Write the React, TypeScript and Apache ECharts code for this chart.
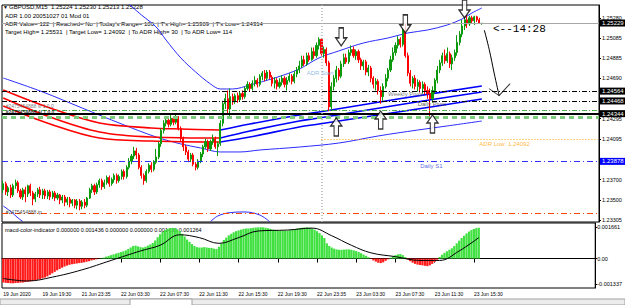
import React, { useEffect, useRef } from "react";
import * as echarts from "echarts";

// ---------- data ----------
const SLOTS = 242;
const LABEL_STEP = 16;
const timeLabels = [
  "19 Jun 2020", "19 Jun 19:30", "21 Jun 23:35", "22 Jun 03:30", "22 Jun 07:30",
  "22 Jun 11:30", "22 Jun 15:30", "22 Jun 19:30", "22 Jun 23:35", "23 Jun 03:30",
  "23 Jun 07:30", "23 Jun 11:30", "23 Jun 15:30",
];
const priceTicks = [1.2528, 1.25085, 1.24885, 1.2469, 1.24295, 1.24095, 1.237, 1.235, 1.23305];
const macdTicks = [0.001661, 0, -0.001337];

// [open, close, low, high]
const candles: number[][] = [
  [1.2360,1.2366,1.2357,1.2369],[1.2366,1.2358,1.2355,1.2368],[1.2358,1.2362,1.2354,1.2364],[1.2362,1.2355,1.2352,1.2365],
  [1.2355,1.2364,1.2353,1.2366],[1.2364,1.2367,1.2361,1.2370],[1.2367,1.2359,1.2357,1.2369],[1.2359,1.2353,1.2351,1.2361],
  [1.2353,1.2360,1.2350,1.2362],[1.2360,1.2356,1.2348,1.2363],[1.2356,1.2364,1.2353,1.2365],[1.2364,1.2357,1.2354,1.2366],
  [1.2357,1.2351,1.2345,1.2359],[1.2351,1.2356,1.2348,1.2358],[1.2356,1.2360,1.2353,1.2362],[1.2360,1.2355,1.2352,1.2363],
  [1.2355,1.2359,1.2351,1.2361],[1.2359,1.2354,1.2351,1.2361],[1.2354,1.2358,1.2351,1.2360],[1.2358,1.2353,1.2350,1.2360],
  [1.2353,1.2357,1.2351,1.2359],[1.2357,1.2352,1.2349,1.2359],[1.2352,1.2355,1.2350,1.2357],[1.2355,1.2350,1.2346,1.2356],
  [1.2350,1.2353,1.2347,1.2355],[1.2353,1.2348,1.2344,1.2355],[1.2348,1.2351,1.2345,1.2353],[1.2351,1.2347,1.2343,1.2353],
  [1.2347,1.2350,1.2344,1.2351],[1.2350,1.2345,1.2342,1.2351],[1.2345,1.2349,1.2341,1.2351],[1.2349,1.2344,1.2340,1.2351],
  [1.2344,1.2348,1.2341,1.2350],[1.2348,1.2345,1.2342,1.2351],[1.2345,1.2352,1.2343,1.2353],[1.2352,1.2360,1.2351,1.2362],
  [1.2360,1.2364,1.2357,1.2366],[1.2364,1.2358,1.2355,1.2366],[1.2358,1.2365,1.2356,1.2367],[1.2365,1.2369,1.2362,1.2371],
  [1.2369,1.2363,1.2360,1.2371],[1.2363,1.2367,1.2361,1.2370],[1.2367,1.2372,1.2365,1.2374],[1.2372,1.2366,1.2363,1.2374],
  [1.2366,1.2370,1.2364,1.2372],[1.2370,1.2374,1.2367,1.2376],[1.2374,1.2369,1.2366,1.2376],[1.2369,1.2373,1.2367,1.2375],
  [1.2373,1.2378,1.2370,1.2380],[1.2378,1.2373,1.2370,1.2380],[1.2373,1.2382,1.2371,1.2384],[1.2382,1.2388,1.2380,1.2391],
  [1.2388,1.2393,1.2385,1.2395],[1.2393,1.2398,1.2390,1.2402],[1.2398,1.2394,1.2390,1.2401],[1.2394,1.2382,1.2380,1.2396],
  [1.2382,1.2374,1.2371,1.2384],[1.2374,1.2369,1.2365,1.2376],[1.2369,1.2378,1.2367,1.2380],[1.2378,1.2384,1.2376,1.2386],
  [1.2384,1.2380,1.2377,1.2387],[1.2380,1.2387,1.2378,1.2389],[1.2387,1.2392,1.2385,1.2400],[1.2392,1.2405,1.2390,1.2407],
  [1.2405,1.2418,1.2402,1.2420],[1.2418,1.2425,1.2415,1.2428],[1.2425,1.2428,1.2422,1.2430],[1.2428,1.2424,1.2421,1.2431],
  [1.2424,1.2430,1.2422,1.2433],[1.2430,1.2426,1.2423,1.2432],[1.2426,1.2430,1.2424,1.2434],[1.2430,1.2420,1.2418,1.2432],
  [1.2420,1.2410,1.2407,1.2422],[1.2410,1.2402,1.2398,1.2412],[1.2402,1.2397,1.2394,1.2404],[1.2397,1.2390,1.2387,1.2399],
  [1.2390,1.2394,1.2387,1.2396],[1.2394,1.2385,1.2383,1.2396],[1.2385,1.2382,1.2379,1.2387],[1.2382,1.2388,1.2380,1.2390],
  [1.2388,1.2395,1.2386,1.2397],[1.2395,1.2402,1.2392,1.2404],[1.2402,1.2407,1.2400,1.2410],[1.2407,1.2400,1.2397,1.2409],
  [1.2400,1.2407,1.2398,1.2409],[1.2407,1.2410,1.2404,1.2414],[1.2410,1.2402,1.2400,1.2412],[1.2402,1.2405,1.2393,1.2407],
  [1.2405,1.2425,1.2403,1.2428],[1.2425,1.2444,1.2422,1.2447],[1.2444,1.2449,1.2439,1.2454],[1.2449,1.2439,1.2434,1.2457],
  [1.2439,1.2451,1.2432,1.2459],[1.2451,1.2446,1.2443,1.2454],[1.2446,1.2452,1.2444,1.2454],[1.2452,1.2448,1.2445,1.2455],
  [1.2448,1.2454,1.2446,1.2456],[1.2454,1.2451,1.2448,1.2457],[1.2451,1.2459,1.2449,1.2461],[1.2459,1.2463,1.2457,1.2466],
  [1.2463,1.2459,1.2456,1.2465],[1.2459,1.2464,1.2457,1.2467],[1.2464,1.2467,1.2461,1.2471],[1.2467,1.2463,1.2460,1.2469],
  [1.2463,1.2471,1.2461,1.2473],[1.2471,1.2474,1.2467,1.2476],[1.2474,1.2469,1.2466,1.2477],[1.2469,1.2475,1.2467,1.2477],
  [1.2475,1.2470,1.2468,1.2477],[1.2470,1.2464,1.2461,1.2472],[1.2464,1.2467,1.2459,1.2470],[1.2467,1.2461,1.2458,1.2469],
  [1.2461,1.2465,1.2459,1.2469],[1.2465,1.2469,1.2462,1.2472],[1.2469,1.2463,1.2460,1.2471],[1.2463,1.2467,1.2457,1.2470],
  [1.2467,1.2471,1.2465,1.2474],[1.2471,1.2466,1.2463,1.2473],[1.2466,1.2473,1.2464,1.2476],[1.2473,1.2477,1.2470,1.2480],
  [1.2477,1.2481,1.2474,1.2486],[1.2481,1.2487,1.2479,1.2491],[1.2487,1.2483,1.2481,1.2491],[1.2483,1.2491,1.2481,1.2494],
  [1.2491,1.2487,1.2485,1.2494],[1.2487,1.2495,1.2486,1.2499],[1.2495,1.2491,1.2488,1.2499],[1.2491,1.2501,1.2489,1.2504],
  [1.2501,1.2507,1.2497,1.2509],[1.2507,1.2493,1.2491,1.2508],[1.2493,1.2497,1.2489,1.2500],[1.2497,1.2484,1.2481,1.2499],
  [1.2484,1.2441,1.2437,1.2486],[1.2441,1.2461,1.2437,1.2465],[1.2461,1.2469,1.2457,1.2472],[1.2469,1.2477,1.2465,1.2481],
  [1.2477,1.2471,1.2467,1.2479],[1.2471,1.2483,1.2469,1.2486],[1.2483,1.2489,1.2480,1.2493],[1.2489,1.2485,1.2483,1.2493],
  [1.2485,1.2494,1.2483,1.2497],[1.2494,1.2497,1.2491,1.2501],[1.2497,1.2491,1.2489,1.2500],[1.2491,1.2495,1.2487,1.2497],
  [1.2495,1.2487,1.2484,1.2497],[1.2487,1.2481,1.2477,1.2489],[1.2481,1.2485,1.2477,1.2487],[1.2485,1.2475,1.2472,1.2487],
  [1.2475,1.2479,1.2471,1.2482],[1.2479,1.2469,1.2465,1.2481],[1.2469,1.2463,1.2459,1.2471],[1.2463,1.2466,1.2457,1.2469],
  [1.2466,1.2457,1.2453,1.2468],[1.2457,1.2451,1.2444,1.2461],[1.2451,1.2461,1.2447,1.2464],[1.2461,1.2469,1.2459,1.2473],
  [1.2469,1.2477,1.2466,1.2479],[1.2477,1.2487,1.2475,1.2491],[1.2487,1.2494,1.2485,1.2499],[1.2494,1.2501,1.2491,1.2504],
  [1.2501,1.2507,1.2498,1.2510],[1.2507,1.2502,1.2499,1.2509],[1.2502,1.2516,1.2500,1.2518],[1.2516,1.2491,1.2489,1.2523],
  [1.2491,1.2474,1.2471,1.2494],[1.2474,1.2464,1.2461,1.2477],[1.2464,1.2469,1.2459,1.2471],[1.2469,1.2461,1.2458,1.2472],
  [1.2461,1.2465,1.2456,1.2468],[1.2465,1.2459,1.2455,1.2467],[1.2459,1.2463,1.2454,1.2466],[1.2463,1.2457,1.2453,1.2465],
  [1.2457,1.2454,1.2449,1.2461],[1.2454,1.2449,1.24314,1.2459],[1.2449,1.2457,1.2445,1.2461],[1.2457,1.2467,1.2454,1.2469],
  [1.2467,1.2477,1.2464,1.2481],[1.2477,1.2484,1.2474,1.2487],[1.2484,1.2491,1.2481,1.2494],[1.2491,1.2486,1.2483,1.2497],
  [1.2486,1.2493,1.2484,1.2499],[1.2493,1.2483,1.2479,1.2495],[1.2483,1.2489,1.2477,1.2492],[1.2489,1.2494,1.2486,1.2497],
  [1.2494,1.2504,1.2491,1.2511],[1.2504,1.2512,1.2501,1.2515],[1.2512,1.2520,1.2509,1.2526],[1.2520,1.2526,1.2516,1.2530],
  [1.2526,1.2522,1.2518,1.25309],[1.2522,1.2528,1.2520,1.2530],[1.2528,1.2525,1.2523,1.2530],[1.2525,1.2529,1.2521,1.2530],
  [1.2529,1.2526,1.2524,1.2530],[1.2526,1.25224,1.2522,1.2528],[1.25224,1.25228,1.25213,1.25230],
];

// bands / moving averages: [barIndex, price]
const upperBand = [[50,1.25434],[56,1.25308],[62,1.2519],[66,1.25063],[72,1.24888],[78,1.24751],[84,1.24634],[88,1.24585],[93,1.24585],[100,1.24624],[110,1.24692],[120,1.2478],[128,1.24888],[136,1.24956],[146,1.25034],[156,1.25083],[164,1.25132],[172,1.25161],[180,1.2521],[186,1.25268],[190,1.25327],[194,1.25376]];
const lowerBand = [[0,1.24692],[16,1.24556],[32,1.24399],[48,1.24243],[62,1.24116],[72,1.24048],[80,1.24009],[88,1.2397],[96,1.2397],[104,1.23989],[120,1.24018],[136,1.24057],[152,1.24126],[168,1.24184],[180,1.24224],[194,1.24272]];
const outerBandLeft = [[0,1.23442],[3,1.2339],[6,1.23325],[8,1.2329]];
const outerBandMid = [[84,1.2329],[87,1.23345],[92,1.23378],[98,1.23384],[104,1.23354],[108,1.2329]];
const maRedA = [[0,1.24575],[19,1.24399],[39,1.24253],[60,1.24204],[72,1.24194],[88,1.24184]];
const maRedB = [[0,1.24497],[19,1.24311],[39,1.24165],[60,1.24116],[88,1.24106]];
const maRedC = [[0,1.24419],[19,1.24243],[39,1.24106],[60,1.24077],[88,1.24067]];
const maBlueA = [[88,1.24184],[100,1.24243],[120,1.24331],[128,1.2436],[160,1.24487],[194,1.24614]];
const maBlueB = [[88,1.24106],[100,1.24175],[120,1.24272],[128,1.24302],[160,1.24429],[194,1.24556]];
const maBlueC = [[88,1.24067],[100,1.24116],[120,1.24214],[128,1.24243],[160,1.2436],[194,1.24487]];

const currentPrice = 1.25229;
const weeklyPivot = 1.24564;
const dailyPivot = 1.24468;
const greenLevel = 1.24377;
const slLevel = 1.24344;
const greenLevel2 = 1.24309;
const adrLow = 1.24092;
const dailyS1 = 1.23878;
const tpLevel = 1.23369;
const adrStartBar = 129;

const downArrows = [[137,1.25093],[163,1.2522],[187,1.25366]];
const upArrows = [[135,1.24214],[153,1.24282],[174,1.24243]];
const handArrow = [[195,1.2516],[197,1.2497],[199,1.2474],[201,1.2452]];

const macdHist = [
  -0.00126,-0.00128,-0.00129,-0.0013,-0.0013,-0.00129,-0.00128,-0.00127,-0.00126,-0.00124,-0.00122,-0.0012,-0.00118,-0.00115,-0.00112,-0.00108,-0.00104,-0.001,
  -0.00094,-0.00086,-0.00078,-0.0007,-0.00062,-0.00055,-0.00048,-0.00042,-0.00037,-0.00033,-0.0003,-0.00028,-0.00026,-0.00024,-0.00022,-0.0002,-0.00017,-0.00014,
  -0.0001,-0.00007,-0.00004,-0.00001,0.00002,0.00005,0.0001,0.00014,0.00018,0.00022,0.00026,0.0003,
  0.00034,0.00038,0.00043,0.0005,0.00058,0.00066,0.00068,0.00064,0.0006,0.00058,0.00062,0.00068,0.00074,0.00082,0.00095,0.00112,0.00128,0.0014,
  0.0015,0.00156,0.0016,0.00161,0.0016,0.00154,0.00144,0.0013,0.00116,0.001,0.00088,0.00076,0.00066,0.0006,
  0.00058,0.00058,0.0006,0.00058,0.00056,0.00056,0.00052,0.0005,0.00062,0.0008,0.00098,0.0011,0.00122,0.0013,0.00138,0.00144,
  0.00148,0.00152,0.00156,0.00158,0.00158,0.0016,0.00162,0.00163,0.00164,0.00165,0.00164,0.00162,0.0016,0.00156,0.00152,0.0015,0.00148,0.00147,0.00146,0.00146,0.00147,0.00149,0.00152,0.00155,0.00158,0.0016,0.00162,0.00163,0.00164,0.00162,0.00158,0.00152,0.00144,0.00134,0.00122,0.00108,
  0.0008,0.00066,0.00058,0.00052,0.00048,0.00046,0.00046,0.00047,0.00048,0.00048,0.00046,0.00043,0.00039,0.00034,0.00028,0.00021,0.00014,0.00007,
  -0.00002,-0.0001,-0.00016,-0.00022,-0.00024,-0.0002,-0.00012,-0.00004,0.00004,0.00012,0.00018,
  0.00022,0.00024,0.00018,0.00008,-0.00004,-0.00014,-0.00022,-0.00028,-0.00032,-0.00034,-0.00036,-0.00038,-0.0004,-0.00036,-0.00028,-0.00018,-0.00006,
  0.00008,0.0002,0.0003,0.00038,0.00046,0.00054,0.00066,0.0008,0.00094,0.00108,0.0012,0.00132,0.00142,0.0015,0.00156,0.0016,0.00162,
];
const macdSignal = [[0,-0.00105],[10,-0.00118],[20,-0.00098],[32,-0.0006],[44,-0.0001],[56,0.0004],[64,0.0007],[72,0.00125],[80,0.0011],[88,0.0008],[96,0.0011],[104,0.00145],[116,0.0015],[126,0.0016],[134,0.0012],[142,0.0007],[150,0.0003],[160,0.0001],[170,-0.0001],[178,-0.0001],[186,0.0004],[194,0.0011]];

// ---------- styling ----------
const FONT = '"Liberation Sans", Arial, sans-serif';
const BULL = "#0c9a0c";
const BEAR = "#ff0000";
const DASHDOT = [5, 2, 1, 2];

const categories = Array.from({ length: SLOTS }, (_, i) => "b" + i);
const isTick = (idx: number) => idx % LABEL_STEP === 0 && idx / LABEL_STEP < timeLabels.length;

const boxLabel = (bg: string) => ({
  show: true,
  position: "end",
  distance: 1,
  formatter: (p: any) => Number(p.value).toFixed(5),
  backgroundColor: bg,
  color: "#fff",
  fontSize: 6,
  fontFamily: FONT,
  padding: [1, 2, 0, 2],
});

const lineSeries = (name: string, data: number[][], color: string, width: number) => ({
  name,
  type: "line",
  xAxisIndex: 0,
  yAxisIndex: 0,
  data,
  showSymbol: false,
  symbol: "none",
  smooth: 0.35,
  lineStyle: { color, width },
  z: 2,
  silent: true,
});

const note = (value: number[], text: string, color: string, extra: any = {}) => ({
  value,
  label: { show: true, formatter: text, color, ...extra },
});

export default function App() {
  const ref = useRef<HTMLDivElement>(null);

  useEffect(() => {
    if (!ref.current) return;
    const chart = echarts.init(ref.current, undefined, { renderer: "svg" });

    const option: any = {
      animation: false,
      backgroundColor: "#ffffff",
      grid: [
        { left: 2, right: 26, top: 5, height: 217, show: true, borderColor: "#000", borderWidth: 1 },
        { left: 2, right: 26, top: 223, height: 65, show: true, borderColor: "#000", borderWidth: 1 },
      ],
      xAxis: [
        {
          type: "category", gridIndex: 0, data: categories, boundaryGap: true,
          axisLine: { show: false }, axisTick: { show: false }, axisLabel: { show: false }, splitLine: { show: false },
        },
        {
          type: "category", gridIndex: 1, data: categories, boundaryGap: true,
          axisLine: { show: true, lineStyle: { color: "#000", width: 1 } },
          axisTick: { show: true, alignWithLabel: true, interval: isTick, length: 4, lineStyle: { color: "#000" } },
          axisLabel: {
            interval: isTick, align: "left", margin: 3, fontSize: 5, fontFamily: FONT, color: "#000",
            formatter: (_v: string, idx: number) => timeLabels[idx / LABEL_STEP] ?? "",
          },
          splitLine: { show: false },
        },
      ],
      yAxis: [
        {
          type: "value", gridIndex: 0, position: "right", min: 1.23286, max: 1.25405, scale: true,
          splitLine: { show: false },
          axisLine: { show: true, lineStyle: { color: "#000" } },
          axisTick: { show: true, customValues: priceTicks, length: 2, lineStyle: { color: "#000" } },
          axisLabel: { customValues: priceTicks, formatter: (v: number) => v.toFixed(5), fontSize: 5.5, fontFamily: FONT, color: "#000", margin: 3 },
        },
        {
          type: "value", gridIndex: 1, position: "right", min: -0.00155, max: 0.00187,
          splitLine: { show: false },
          axisLine: { show: true, lineStyle: { color: "#000" } },
          axisTick: { show: true, customValues: macdTicks, length: 2, lineStyle: { color: "#000" } },
          axisLabel: {
            customValues: macdTicks, formatter: (v: number) => (v === 0 ? "0.00" : v.toFixed(6)),
            fontSize: 5.5, fontFamily: FONT, color: "#000", margin: 2,
          },
        },
      ],
      series: [
        lineSeries("upperBand", upperBand, "#2b2bff", 1),
        lineSeries("lowerBand", lowerBand, "#2b2bff", 1),
        lineSeries("outerBandLeft", outerBandLeft, "#2b2bff", 1),
        lineSeries("outerBandMid", outerBandMid, "#2b2bff", 1),
        lineSeries("maRedA", maRedA, "#ff0000", 1.6),
        lineSeries("maRedB", maRedB, "#ff0000", 1.6),
        lineSeries("maRedC", maRedC, "#ff0000", 1.6),
        lineSeries("maBlueA", maBlueA, "#0000ff", 1.6),
        lineSeries("maBlueB", maBlueB, "#0000ff", 1.6),
        lineSeries("maBlueC", maBlueC, "#0000ff", 1.6),
        {
          name: "GBPUSD", type: "candlestick", xAxisIndex: 0, yAxisIndex: 0,
          data: candles, barWidth: 1.6, z: 3,
          itemStyle: { color: BULL, color0: BEAR, borderColor: BULL, borderColor0: BEAR, borderWidth: 1 },
          markLine: {
            silent: true, symbol: ["none", "none"], z: 6, precision: 5,
            data: [
              { yAxis: currentPrice, lineStyle: { color: "#a8a8a8", type: "solid", width: 1 }, label: boxLabel("#000") },
              { yAxis: weeklyPivot, lineStyle: { color: "#000", type: DASHDOT, width: 1 }, label: boxLabel("#000") },
              { yAxis: dailyPivot, lineStyle: { color: "#000", type: DASHDOT, width: 1 }, label: boxLabel("#000") },
              { yAxis: greenLevel, lineStyle: { color: "#4fb04f", type: DASHDOT, width: 1 }, label: { show: false } },
              { yAxis: slLevel, lineStyle: { color: "#000", type: "solid", width: 2 }, label: boxLabel("#000") },
              { yAxis: greenLevel2, lineStyle: { color: "#7ccc7c", type: [5, 4], width: 3 }, label: { show: false } },
              { yAxis: dailyS1, lineStyle: { color: "#3030ff", type: [6, 3, 1, 3], width: 1 }, label: boxLabel("#0000ff") },
              { yAxis: tpLevel, lineStyle: { color: "#ff4500", type: [6, 3, 1, 3], width: 1 }, label: { show: false } },
              [
                { coord: [adrStartBar, adrLow], lineStyle: { color: "#ffa500", type: [1, 2], width: 1 }, label: { show: false } },
                { coord: [SLOTS - 1, adrLow] },
              ],
              { xAxis: adrStartBar, lineStyle: { color: "#b4b4b4", type: [1, 2], width: 1.5 }, label: { show: false } },
            ],
          },
        },
        {
          name: "notes", type: "scatter", xAxisIndex: 0, yAxisIndex: 0, symbolSize: 0, silent: true, z: 7,
          itemStyle: { color: "transparent" },
          label: { show: true, position: "right", distance: 0, fontSize: 6, fontFamily: FONT },
          data: [
            note([123, 1.24741], "ADR Start", "#74a9d8"),
            note([156, 1.24536], "Weekly Pivot", "#555555"),
            note([168, 1.24438], "Daily Pivot", "#333333"),
            note([169, 1.23833], "Daily S1", "#3344dd"),
            note([193, 1.24048], "ADR Low: 1.24092", "#ffa500"),
            note([1, 1.24419], "#2475454888 sl 1.0.0", "#555555", { fontSize: 5 }),
            note([1, 1.24360], "#2475454888 sl 1.0.0", "#000000", { fontSize: 5, fontWeight: "bold" }),
            note([1, 1.23384], "#2475454888 tp", "#222222", { fontSize: 5 }),
          ],
        },
        {
          name: "downArrows", type: "scatter", xAxisIndex: 0, yAxisIndex: 0, data: downArrows, z: 8, silent: true,
          symbol: "path://M3,0 L7,0 L7,10 L10,10 L5,18 L0,10 L3,10 Z", symbolSize: [11, 18],
          itemStyle: { color: "#ffffff", borderColor: "#000", borderWidth: 1.3 },
        },
        {
          name: "upArrows", type: "scatter", xAxisIndex: 0, yAxisIndex: 0, data: upArrows, z: 8, silent: true,
          symbol: "path://M5,0 L10,8 L7,8 L7,18 L3,18 L3,8 L0,8 Z", symbolSize: [11, 18],
          itemStyle: { color: "#ffffff", borderColor: "#000", borderWidth: 1.3 },
        },
        {
          name: "handArrow", type: "line", xAxisIndex: 0, yAxisIndex: 0, data: handArrow, smooth: 0.4,
          showSymbol: false, symbol: "none", lineStyle: { color: "#000", width: 1 }, z: 8, silent: true, clip: false,
        },
        {
          name: "handArrowHead", type: "scatter", xAxisIndex: 0, yAxisIndex: 0, data: [handArrow[handArrow.length - 1]],
          symbol: "path://M0,5 L10,12 L21,0", symbolSize: [21, 12], symbolOffset: [0.5, -6], z: 8, silent: true, clip: false,
          itemStyle: { color: "none", borderColor: "#000", borderWidth: 1 },
        },
        {
          name: "macd", type: "bar", xAxisIndex: 1, yAxisIndex: 1, data: macdHist, barCategoryGap: "10%",
          itemStyle: {
            color: (p: any) => (p.value >= 0 ? "#3fe03f" : "#ff1a1a"),
            borderColor: "#1a8a1a", borderWidth: 0,
          },
          silent: true,
        },
        {
          name: "signal", type: "line", xAxisIndex: 1, yAxisIndex: 1, data: macdSignal, smooth: 0.4,
          showSymbol: false, symbol: "none", lineStyle: { color: "#000", width: 1 }, silent: true,
        },
      ],
      graphic: [
        { type: "text", x: 3, y: 7, style: { text: "\u25BC", font: `5px ${FONT}`, fill: "#000", verticalAlign: "middle" } },
        { type: "text", x: 9, y: 7, style: { text: "GBPUSD,M15  1.25224 1.25230 1.25213 1.25228", font: `6px ${FONT}`, fill: "#000", verticalAlign: "middle" } },
        { type: "text", x: 5, y: 15.5, style: { text: "ADR 1.00 20051027 01 Mod 01", font: `6px ${FONT}`, fill: "#000", verticalAlign: "middle" } },
        { type: "text", x: 5, y: 24, style: { text: "ADR Value= 122  | Reached= No  | Today's Range= 100  | T's High= 1.25309  | T's Low= 1.24314", font: `6px ${FONT}`, fill: "#000", verticalAlign: "middle" } },
        { type: "text", x: 5, y: 31.5, style: { text: "Target High= 1.25531  | Target Low= 1.24092  | To ADR High= 30  | To ADR Low= 114", font: `6px ${FONT}`, fill: "#000", verticalAlign: "middle" } },
        { type: "text", x: 5, y: 229.5, style: { text: "macd-color-indicator 0.000000 0.001436 0.000000 0.000000 0.001436 0.001264", font: `5.5px ${FONT}`, fill: "#000", verticalAlign: "middle" } },
        { type: "text", x: 493, y: 28.5, style: { text: "<--14:28", font: `11px "Liberation Mono", monospace`, fill: "#000", verticalAlign: "middle" } },
        { type: "rect", shape: { x: 0, y: 299, width: 625, height: 6 }, style: { fill: "#ececec", stroke: "#a0a0a0", lineWidth: 1 } },
        { type: "rect", shape: { x: 130, y: 299, width: 62, height: 7 }, style: { fill: "#ffffff", stroke: "#a0a0a0", lineWidth: 1 } },
      ],
    };

    chart.setOption(option);
    return () => chart.dispose();
  }, []);

  return (
    <div
      ref={ref}
      style={{ position: "fixed", left: 0, top: 0, width: 625, height: 305, background: "#fff" }}
    />
  );
}
